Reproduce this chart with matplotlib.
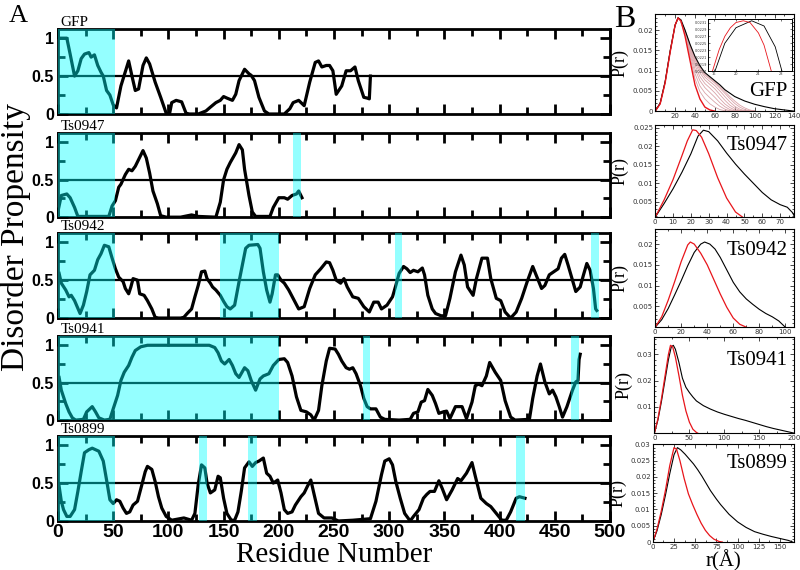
import matplotlib
matplotlib.use('Agg')
import matplotlib.pyplot as plt
from matplotlib.ticker import MultipleLocator

names = ['GFP', 'Ts0947', 'Ts0942', 'Ts0941', 'Ts0899']

# ---- panel A: disorder propensity along the sequence ----
gfp_res = [2, 8, 11, 15, 18, 21, 24, 28, 30, 33, 36, 39, 41, 44, 47, 50, 53, 57, 64, 67, 70, 73, 77, 80, 83,
           88, 93, 98, 101, 103, 107, 112, 116, 119, 127, 134, 138, 143, 147, 150, 153, 158, 161, 164, 169,
           173, 175, 178, 182, 187, 191, 205, 210, 213, 218, 223, 228, 233, 236, 239, 243, 246, 249, 252,
           257, 261, 265, 269, 272, 277, 280, 282, 283]
gfp_dis = [1.0, 1.0, 0.79, 0.50, 0.57, 0.73, 0.79, 0.81, 0.75, 0.78, 0.64, 0.55, 0.50, 0.31, 0.25, 0.12, 0.08,
           0.37, 0.70, 0.50, 0.31, 0.33, 0.64, 0.74, 0.66, 0.42, 0.22, 0.01, 0.0, 0.15, 0.18, 0.16, 0.01,
           0.0, 0.0, 0.04, 0.09, 0.15, 0.18, 0.23, 0.21, 0.18, 0.26, 0.44, 0.59, 0.53, 0.51, 0.44, 0.22,
           0.04, 0.0, 0.0, 0.07, 0.15, 0.18, 0.11, 0.42, 0.68, 0.70, 0.62, 0.64, 0.64, 0.57, 0.26, 0.37,
           0.57, 0.57, 0.62, 0.44, 0.22, 0.21, 0.20, 0.50]

t47_res = [0, 1, 3, 8, 11, 15, 18, 46, 49, 52, 55, 57, 61, 64, 67, 70, 73, 77, 80, 83, 86, 90, 93, 98, 111,
           121, 127, 143, 147, 150, 153, 156, 161, 164, 167, 169, 173, 176, 179, 192, 195, 200, 205, 208,
           212, 216, 218, 221]
t47_dis = [0.08, 0.15, 0.29, 0.31, 0.26, 0.13, 0.01, 0.01, 0.15, 0.22, 0.40, 0.44, 0.57, 0.64, 0.62, 0.68,
           0.77, 0.89, 0.79, 0.59, 0.35, 0.18, 0.02, 0.0, 0.0, 0.03, 0.01, 0.0, 0.2, 0.5, 0.64, 0.73, 0.86,
           0.97, 0.90, 0.64, 0.29, 0.07, 0.01, 0.01, 0.13, 0.26, 0.26, 0.24, 0.29, 0.31, 0.35, 0.26]

t42_res = [1, 3, 7, 10, 12, 15, 18, 20, 23, 26, 29, 33, 36, 39, 42, 46, 49, 52, 55, 59, 61, 64, 66, 68, 72,
           74, 78, 81, 85, 88, 91, 111, 114, 117, 121, 124, 127, 130, 133, 135, 138, 140, 143, 147, 150,
           153, 156, 160, 164, 168, 170, 173, 181, 183, 186, 189, 192, 194, 197, 199, 202, 205, 209, 213,
           218, 223, 228, 233, 238, 243, 246, 249, 252, 256, 259, 262, 267, 272, 277, 282, 286, 290, 293,
           298, 303, 306, 309, 313, 316, 319, 322, 326, 330, 332, 335, 339, 342, 347, 351, 355, 360, 365,
           368, 371, 376, 379, 384, 389, 392, 397, 401, 405, 410, 415, 420, 425, 430, 435, 438, 441, 445,
           449, 453, 456, 459, 462, 466, 469, 473, 476, 479, 482, 485, 487, 488]
t42_dis = [0.59, 0.46, 0.37, 0.28, 0.30, 0.23, 0.13, 0.06, 0.17, 0.35, 0.57, 0.63, 0.77, 0.85, 0.96, 0.94,
           0.79, 0.65, 0.54, 0.48, 0.39, 0.32, 0.41, 0.52, 0.50, 0.32, 0.30, 0.23, 0.12, 0.01, 0.0, 0.0,
           0.01, 0.06, 0.12, 0.28, 0.43, 0.61, 0.62, 0.52, 0.46, 0.41, 0.37, 0.30, 0.22, 0.15, 0.12, 0.17,
           0.48, 0.77, 0.92, 0.96, 0.97, 0.92, 0.61, 0.37, 0.21, 0.32, 0.57, 0.57, 0.50, 0.46, 0.37, 0.26,
           0.12, 0.15, 0.39, 0.57, 0.65, 0.74, 0.73, 0.63, 0.50, 0.46, 0.52, 0.41, 0.28, 0.26, 0.15, 0.08,
           0.21, 0.21, 0.12, 0.17, 0.28, 0.43, 0.59, 0.68, 0.65, 0.60, 0.63, 0.61, 0.66, 0.57, 0.30, 0.12,
           0.06, 0.03, 0.03, 0.26, 0.61, 0.83, 0.70, 0.41, 0.30, 0.52, 0.79, 0.79, 0.52, 0.26, 0.23, 0.08,
           0.0, 0.08, 0.26, 0.48, 0.68, 0.50, 0.39, 0.43, 0.57, 0.61, 0.65, 0.79, 0.84, 0.70, 0.50, 0.35,
           0.41, 0.57, 0.72, 0.63, 0.39, 0.12, 0.10]

t41_res = [1, 3, 7, 10, 13, 16, 23, 26, 31, 34, 37, 42, 47, 50, 54, 57, 60, 64, 67, 70, 75, 81, 137, 142,
           145, 148, 151, 155, 158, 161, 164, 169, 172, 175, 179, 183, 186, 191, 195, 200, 205, 208, 212,
           216, 220, 225, 229, 232, 236, 239, 243, 246, 251, 254, 257, 261, 264, 267, 270, 274, 277, 280,
           283, 288, 292, 296, 309, 319, 322, 326, 329, 332, 335, 339, 342, 345, 349, 352, 355, 360, 366,
           370, 375, 378, 381, 384, 388, 391, 396, 401, 405, 410, 414, 427, 430, 434, 437, 441, 445, 448,
           451, 454, 457, 461, 466, 469, 471, 472, 473]
t41_dis = [0.57, 0.40, 0.22, 0.11, 0.03, 0.0, 0.01, 0.11, 0.18, 0.11, 0.03, 0.0, 0.01, 0.15, 0.33, 0.53,
           0.64, 0.73, 0.84, 0.93, 0.98, 1.0, 1.0, 0.97, 0.90, 0.79, 0.75, 0.81, 0.73, 0.62, 0.57, 0.70,
           0.66, 0.53, 0.40, 0.55, 0.59, 0.62, 0.73, 0.81, 0.82, 0.77, 0.59, 0.31, 0.13, 0.11, 0.07, 0.0,
           0.13, 0.46, 0.79, 0.96, 0.95, 0.88, 0.79, 0.70, 0.68, 0.70, 0.62, 0.46, 0.29, 0.18, 0.15, 0.15,
           0.04, 0.01, 0.0, 0.01, 0.09, 0.11, 0.24, 0.26, 0.41, 0.33, 0.22, 0.09, 0.11, 0.12, 0.02, 0.18,
           0.18, 0.02, 0.24, 0.46, 0.48, 0.46, 0.59, 0.77, 0.64, 0.53, 0.26, 0.04, 0.0, 0.01, 0.29, 0.59,
           0.75, 0.51, 0.35, 0.40, 0.31, 0.18, 0.04, 0.18, 0.40, 0.51, 0.53, 0.81, 0.88]

t99_res = [1, 3, 5, 8, 11, 15, 18, 21, 24, 28, 31, 34, 37, 41, 44, 47, 50, 53, 56, 59, 62, 65, 68, 72, 76,
           79, 81, 85, 88, 91, 94, 98, 103, 114, 121, 124, 127, 130, 133, 135, 138, 142, 145, 147, 150,
           153, 157, 160, 163, 166, 169, 173, 176, 179, 182, 186, 189, 192, 195, 199, 202, 205, 208, 212,
           215, 220, 223, 226, 229, 232, 236, 241, 248, 254, 267, 283, 288, 293, 296, 300, 303, 306, 310,
           314, 319, 322, 327, 331, 334, 337, 341, 345, 348, 352, 357, 362, 365, 370, 375, 378, 383, 388,
           392, 397, 402, 406, 410, 415, 418, 423]
t99_dis = [0.46, 0.26, 0.15, 0.06, 0.06, 0.15, 0.39, 0.65, 0.90, 0.94, 0.96, 0.94, 0.92, 0.79, 0.54, 0.28,
           0.23, 0.28, 0.26, 0.17, 0.10, 0.12, 0.21, 0.26, 0.48, 0.65, 0.72, 0.68, 0.52, 0.32, 0.17, 0.06,
           0.01, 0.04, 0.01, 0.10, 0.48, 0.74, 0.70, 0.50, 0.37, 0.41, 0.59, 0.57, 0.30, 0.10, 0.01, 0.01,
           0.12, 0.39, 0.70, 0.78, 0.72, 0.77, 0.79, 0.83, 0.63, 0.59, 0.50, 0.54, 0.37, 0.15, 0.10, 0.12,
           0.21, 0.32, 0.37, 0.46, 0.54, 0.35, 0.10, 0.04, 0.04, 0.0, 0.01, 0.03, 0.26, 0.61, 0.79, 0.82,
           0.74, 0.52, 0.30, 0.10, 0.0, 0.06, 0.15, 0.30, 0.35, 0.39, 0.39, 0.53, 0.43, 0.28, 0.41, 0.56,
           0.53, 0.63, 0.77, 0.59, 0.30, 0.23, 0.19, 0.10, 0.01, 0.01, 0.12, 0.30, 0.32, 0.30]

gfp_spans = [(0, 52)]
t47_spans = [(0, 52), (213, 220)]
t42_spans = [(0, 52), (147, 200), (305, 312), (483, 490)]
t41_spans = [(0, 200), (276, 283), (465, 472)]
t99_spans = [(0, 52), (128, 135), (172, 180), (415, 423)]

# ---- panel B: P(r) curves (black and red) ----
gfp_rk = [0, 5, 10, 15, 20, 23, 26, 30, 35, 40, 45, 50, 55, 60, 65, 70, 80, 90, 100, 110, 120, 130, 140]
gfp_pk = [0, 0.002, 0.0073, 0.0148, 0.0212, 0.023, 0.0225, 0.0200, 0.0165, 0.0135, 0.0112, 0.0095, 0.0085,
          0.0075, 0.0065, 0.0053, 0.0036, 0.0025, 0.0017, 0.0011, 0.0006, 0.0003, 0.0]
gfp_rr = [0, 5, 10, 15, 20, 23, 26, 30, 35, 40, 45, 50, 55, 60]
gfp_pr = [0, 0.0018, 0.007, 0.0145, 0.0212, 0.023, 0.0222, 0.0185, 0.0125, 0.0065, 0.003, 0.001, 0.0003, 0]
# intermediate pink curves
gfp_rm = [0, 5, 10, 15, 20, 23, 25, 30, 35, 40, 45, 50, 55, 60, 65, 70, 75, 80, 85, 90, 95, 100]
gfp_m1 = [0, 0.0019, 0.0071, 0.0146, 0.0212, 0.023, 0.0225, 0.0190, 0.0135, 0.0080, 0.0048, 0.0030, 0.0018,
          0.0010, 0.0004, 0.0001, 0, 0, 0, 0, 0, 0]
gfp_m2 = [0, 0.0019, 0.0071, 0.0146, 0.0212, 0.023, 0.0225, 0.0192, 0.0142, 0.0093, 0.0062, 0.0045, 0.0033,
          0.0022, 0.0012, 0.0005, 0.0001, 0, 0, 0, 0, 0]
gfp_m3 = [0, 0.0019, 0.0071, 0.0146, 0.0212, 0.023, 0.0225, 0.0194, 0.0148, 0.0104, 0.0075, 0.0058, 0.0046,
          0.0034, 0.0021, 0.0011, 0.0004, 0.0001, 0, 0, 0, 0]
gfp_m4 = [0, 0.0019, 0.0072, 0.0147, 0.0212, 0.023, 0.0225, 0.0196, 0.0153, 0.0113, 0.0085, 0.0068, 0.0057,
          0.0045, 0.0031, 0.0018, 0.0009, 0.0003, 0, 0, 0, 0]
gfp_m5 = [0, 0.0019, 0.0072, 0.0147, 0.0212, 0.023, 0.0225, 0.0197, 0.0157, 0.0120, 0.0094, 0.0077, 0.0066,
          0.0055, 0.0041, 0.0027, 0.0015, 0.0007, 0.0002, 0, 0, 0]
gfp_m6 = [0, 0.0019, 0.0072, 0.0147, 0.0212, 0.023, 0.0225, 0.0198, 0.0161, 0.0126, 0.0101, 0.0084, 0.0073,
          0.0063, 0.0050, 0.0036, 0.0023, 0.0012, 0.0005, 0.0001, 0, 0]
gfp_m7 = [0, 0.0019, 0.0072, 0.0147, 0.0212, 0.023, 0.0226, 0.0199, 0.0163, 0.0130, 0.0106, 0.0089, 0.0079,
          0.0069, 0.0057, 0.0044, 0.0031, 0.0019, 0.0010, 0.0004, 0.0001, 0]
gfp_m8 = [0, 0.0019, 0.0072, 0.0147, 0.0212, 0.023, 0.0226, 0.0200, 0.0164, 0.0133, 0.0109, 0.0092, 0.0082,
          0.0072, 0.0061, 0.0049, 0.0036, 0.0025, 0.0015, 0.0008, 0.0003, 0]
# inset of the GFP peak
ins_rk = [16.25, 18, 20, 22.8, 25, 27, 28.2]
ins_pk = [0.0217, 0.0225, 0.02295, 0.02315, 0.0230, 0.0224, 0.0217]
ins_rr = [15.8, 17, 18, 19, 20, 21.3, 22.5, 24, 25, 26.3]
ins_pr = [0.0217, 0.02232, 0.0227, 0.02295, 0.0231, 0.02315, 0.0231, 0.0228, 0.02245, 0.0217]

t47_rk = [0, 5, 10, 15, 20, 24, 27, 30, 35, 40, 45, 50, 55, 60, 65, 70, 74, 77, 78]
t47_pk = [0.0008, 0.0045, 0.0085, 0.013, 0.018, 0.0228, 0.0244, 0.024, 0.0215, 0.0182, 0.0152, 0.0125,
          0.0100, 0.0075, 0.0055, 0.0042, 0.0035, 0.0020, 0.0010]
t47_rr = [0, 5, 10, 15, 18, 21, 23, 26, 30, 35, 40, 45, 49]
t47_pr = [0.0008, 0.0055, 0.011, 0.0175, 0.0215, 0.0245, 0.0243, 0.0225, 0.018, 0.0115, 0.006, 0.0022, 0.0008]

t42_rk = [0, 5, 10, 15, 20, 25, 30, 35, 38, 42, 46, 50, 55, 60, 65, 70, 75, 80, 85, 90, 95, 100]
t42_pk = [0, 0.0018, 0.0045, 0.0078, 0.0112, 0.0148, 0.018, 0.0200, 0.0205, 0.0200, 0.0188, 0.0168, 0.0138,
          0.0108, 0.0085, 0.0068, 0.0055, 0.0043, 0.0033, 0.0025, 0.0015, 0]
t42_rr = [0, 5, 10, 15, 20, 25, 27, 30, 35, 40, 45, 50, 55, 60, 65, 70]
t42_pr = [0, 0.0025, 0.0065, 0.011, 0.0158, 0.0198, 0.0205, 0.0200, 0.0178, 0.015, 0.0115, 0.008, 0.0048,
          0.0022, 0.0007, 0]

t41_rk = [0, 5, 10, 15, 20, 24, 27, 30, 35, 40, 45, 50, 55, 60, 70, 80, 90, 100, 110, 120, 130, 140, 150,
          160, 170, 180, 190, 200]
t41_pk = [0, 0.005, 0.012, 0.02, 0.028, 0.0328, 0.0335, 0.032, 0.027, 0.021, 0.0175, 0.0155, 0.0138, 0.0123,
          0.0105, 0.0092, 0.0081, 0.0072, 0.0064, 0.0056, 0.0049, 0.0041, 0.0033, 0.0025, 0.0018, 0.0012,
          0.0006, 0]
t41_rr = [0, 5, 10, 15, 20, 23, 26, 30, 35, 40, 45, 50, 55, 60, 62]
t41_pr = [0, 0.0055, 0.013, 0.0215, 0.030, 0.0335, 0.033, 0.029, 0.022, 0.0145, 0.0085, 0.0042, 0.0015,
          0.0003, 0]

t99_rk = [0, 5, 10, 15, 20, 25, 29, 33, 38, 43, 48, 53, 58, 63, 68, 75, 80, 90, 100, 110, 120, 130, 140,
          150, 160, 165]
t99_pk = [0, 0.0035, 0.0085, 0.0145, 0.021, 0.0268, 0.029, 0.0283, 0.027, 0.0255, 0.024, 0.0222, 0.0202,
          0.018, 0.0158, 0.0132, 0.0115, 0.0085, 0.0062, 0.0045, 0.0032, 0.0024, 0.0017, 0.0011, 0.0005, 0]
t99_rr = [0, 5, 10, 15, 20, 25, 28, 32, 37, 42, 47, 52, 57, 62, 67, 72, 78, 82]
t99_pr = [0, 0.004, 0.0095, 0.016, 0.0235, 0.029, 0.0285, 0.025, 0.0195, 0.0148, 0.0115, 0.0085, 0.0058,
          0.0036, 0.002, 0.0009, 0.0002, 0]

all_res = [gfp_res, t47_res, t42_res, t41_res, t99_res]
all_dis = [gfp_dis, t47_dis, t42_dis, t41_dis, t99_dis]
all_spans = [gfp_spans, t47_spans, t42_spans, t41_spans, t99_spans]
b_black = [(gfp_rk, gfp_pk), (t47_rk, t47_pk), (t42_rk, t42_pk), (t41_rk, t41_pk), (t99_rk, t99_pk)]
b_red = [(gfp_rr, gfp_pr), (t47_rr, t47_pr), (t42_rr, t42_pr), (t41_rr, t41_pr), (t99_rr, t99_pr)]
gfp_mids = [gfp_m1, gfp_m2, gfp_m3, gfp_m4, gfp_m5, gfp_m6, gfp_m7, gfp_m8]

serif = 'Liberation Serif'
sans = 'Liberation Sans'

fig = plt.figure(figsize=(8, 5.7), dpi=100)

# axes boxes (figure fractions)
a_boxes = [[0.0725, 0.800, 0.69, 0.149],
           [0.0725, 0.619, 0.69, 0.147],
           [0.0725, 0.442, 0.69, 0.149],
           [0.0725, 0.263, 0.69, 0.147],
           [0.0725, 0.086, 0.69, 0.149]]
b_boxes = [[0.819, 0.805, 0.174, 0.170],
           [0.819, 0.619, 0.174, 0.161],
           [0.819, 0.426, 0.174, 0.172],
           [0.818, 0.240, 0.175, 0.168],
           [0.816, 0.049, 0.177, 0.172]]

for i in range(5):
    ax = fig.add_axes(a_boxes[i])
    ax.plot(all_res[i], all_dis[i], color='k', lw=2.3, zorder=2)
    ax.axhline(0.5, color='k', lw=1.6, zorder=1)
    for s in all_spans[i]:
        ax.axvspan(s[0], s[1], color='#00ffff', alpha=0.42, lw=0, zorder=3)
    ax.set_xlim(0, 500)
    ax.set_ylim(0, 1.12)
    ax.xaxis.set_major_locator(MultipleLocator(50))
    ax.xaxis.set_minor_locator(MultipleLocator(25))
    ax.set_yticks([0, 0.5, 1])
    ax.set_yticklabels(['0', '0.5', '1'])
    ax.yaxis.set_minor_locator(MultipleLocator(0.25))
    ax.tick_params(which='both', direction='in', top=True, right=True, width=2)
    ax.tick_params(which='major', length=7)
    ax.tick_params(which='minor', length=5)
    ax.tick_params(axis='y', pad=3)
    for sp in ax.spines.values():
        sp.set_linewidth(2)
    for lab in ax.get_yticklabels():
        lab.set_fontfamily(sans)
        lab.set_fontweight('bold')
        lab.set_fontsize(11.5)
    if i < 4:
        ax.set_xticklabels([])
    else:
        for lab in ax.get_xticklabels():
            lab.set_fontfamily(sans)
            lab.set_fontweight('bold')
            lab.set_fontsize(14)
        ax.tick_params(axis='x', pad=2)
    ax.text(0.005, 1.0, names[i], transform=ax.transAxes, ha='left', va='bottom',
            fontsize=11, family=serif)

fig.text(0.0195, 0.585, 'Disorder Propensity', rotation=90, ha='center', va='center',
         fontsize=24, family=serif)
fig.text(0.4175, 0.0135, 'Residue Number', ha='center', va='baseline', fontsize=21, family=serif)
fig.text(0.011, 0.962, 'A', fontsize=19, family=serif)
fig.text(0.768, 0.952, 'B', fontsize=23, family=serif)

b_xlim = [(0, 140), (0, 78), (0, 107), (0, 200), (0, 167)]
b_ylim = [(0, 0.0239), (0.0008, 0.0257), (0, 0.0236), (0, 0.0365), (0, 0.0301)]
b_xmaj = [20, 10, 20, 50, 25]
b_ymaj = [0.005, 0.005, 0.005, 0.01, 0.005]
b_text_y = [0.2, 0.78, 0.78, 0.76, 0.8]

for i in range(5):
    ax = fig.add_axes(b_boxes[i])
    if i == 0:
        for m in gfp_mids:
            ax.plot(gfp_rm, m, color='#d9a3a8', lw=0.6)
    ax.plot(b_black[i][0], b_black[i][1], color='k', lw=0.8)
    ax.plot(b_red[i][0], b_red[i][1], color='#e8151b', lw=1.0 if i == 0 else 0.9)
    ax.set_xlim(b_xlim[i])
    ax.set_ylim(b_ylim[i])
    ax.xaxis.set_major_locator(MultipleLocator(b_xmaj[i]))
    ax.xaxis.set_minor_locator(MultipleLocator(b_xmaj[i] / 2))
    ax.yaxis.set_major_locator(MultipleLocator(b_ymaj[i]))
    ax.yaxis.set_minor_locator(MultipleLocator(b_ymaj[i] / 5))
    ax.tick_params(which='both', direction='in', top=True, right=True, width=0.5,
                   labelsize=5, labelcolor='#333333', pad=1.5)
    ax.tick_params(which='major', length=3)
    ax.tick_params(which='minor', length=1.5)
    for sp in ax.spines.values():
        sp.set_linewidth(0.8)
    ax.yaxis.set_major_formatter(matplotlib.ticker.FuncFormatter(lambda v, p: ('%g' % round(v, 4))))
    ax.xaxis.set_major_formatter(matplotlib.ticker.FuncFormatter(lambda v, p: ('%g' % v)))
    if i == 0:
        ax.set_xticks([20, 40, 60, 80, 100, 120, 140])
    if i in (1, 2, 3):
        # no zero label on the y axis
        ax.set_yticks([t for t in ax.get_yticks() if t > 0.0009 and t <= b_ylim[i][1]])
    ax.set_ylabel('P(r)', fontsize=13, family=serif, labelpad=3)
    ax.text(0.95, b_text_y[i], names[i], transform=ax.transAxes, ha='right', va='center',
            fontsize=15, family=serif)
    if i == 4:
        ax.set_xlabel('r(\u00c5)', fontsize=15, family=serif, labelpad=0)

# inset of the GFP peak
axi = fig.add_axes([0.885, 0.8754, 0.105, 0.0912])
axi.plot(ins_rk, ins_pk, color='k', lw=0.6)
axi.plot(ins_rr, ins_pr, color='#e8151b', lw=0.6)
axi.set_xlim(15, 30)
axi.set_ylim(0.0217, 0.0232)
axi.set_xticks([16, 20, 24, 28])
axi.set_yticks([0.0217, 0.0219, 0.0221, 0.0223, 0.0225, 0.0227, 0.0229, 0.0231])
axi.set_yticklabels(['0.0217', '0.0219', '0.0221', '0.0223', '0.0225', '0.0227', '0.0229', '0.0231'])
axi.tick_params(which='both', direction='in', top=True, right=True, width=0.4, length=1.5,
                labelsize=2.5, labelcolor='#333333', pad=0.8)
for sp in axi.spines.values():
    sp.set_linewidth(0.7)

fig.savefig('out.png', dpi=100)
